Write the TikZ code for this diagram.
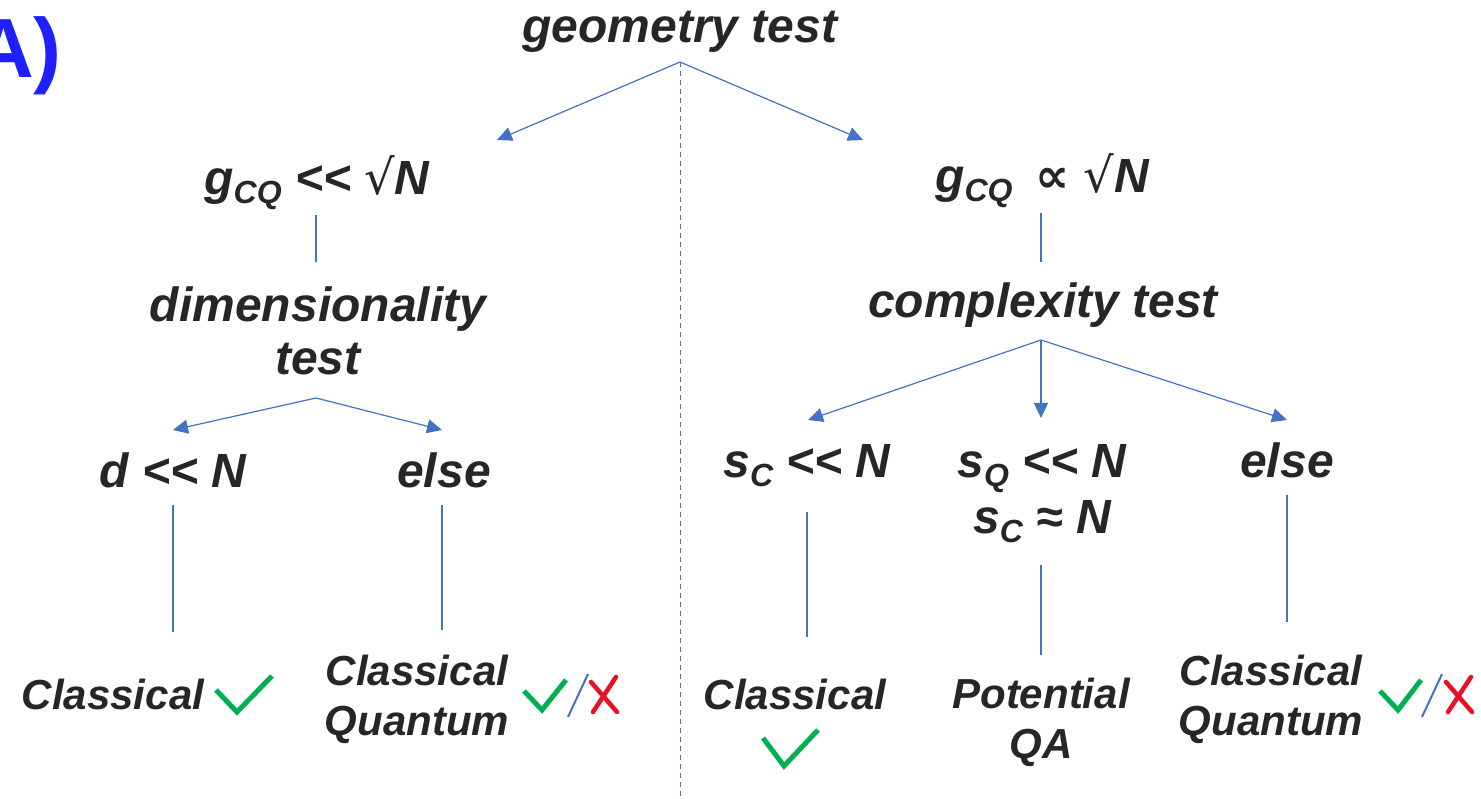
\documentclass[tikz,border=0pt]{standalone}
\usepackage{fontspec}
\setmainfont{Liberation Sans}
\newfontfamily\symf{DejaVu Sans}
\usetikzlibrary{arrows.meta}
\definecolor{txt}{HTML}{262626}
\definecolor{ln}{HTML}{4472C4}
\definecolor{okg}{HTML}{00B050}
\definecolor{nored}{HTML}{E81123}
\definecolor{lab}{HTML}{1F1FFF}
\newcommand{\sbs}[1]{\raisebox{-9pt}{\fontsize{32}{32}\selectfont #1}}
\newcommand{\sqr}{{\symf\mdseries\upshape √}}
\begin{document}
\begin{tikzpicture}[x=1pt,y=-1pt,
  head/.style={font=\bfseries\itshape\fontsize{48}{56}\selectfont, text=txt, inner sep=0pt, anchor=base},
  leaf/.style={font=\bfseries\itshape\fontsize{42}{50}\selectfont, text=txt, inner sep=0pt, anchor=base},
  conn/.style={ln, line width=1.2pt},
  arr/.style={conn, -{Triangle[length=15pt,width=14pt]}},
  tick/.style={okg, line width=5pt, line join=miter, line cap=butt},
  slash/.style={ln, line width=2pt},
  cross/.style={nored, line width=4.5pt, line cap=round}]
\useasboundingbox (0,0) rectangle (1481,799);

% label
\node[font=\bfseries\fontsize{84}{90}\selectfont, text=lab, inner sep=0pt, anchor=base east] (lbl) at (62,78) {A)};

% top
\node[head] (geo) at (680,43) {geometry test};
\coordinate (geoJ) at (680,62);
\coordinate (glT) at (497,140);
\coordinate (grT) at (863,140);
\coordinate (dashE) at (680,797);
\draw[conn, dash pattern=on 5pt off 4pt, line width=1pt] (geoJ) -- (dashE);
\draw[arr] (geoJ) -- (glT);
\draw[arr] (geoJ) -- (grT);

% left branch
\node[head] (gl) at (317,195) {g\sbs{CQ} {<}{<} \sqr N};
\coordinate (glB) at (316,215);
\coordinate (dimT) at (316,262);
\draw[conn] (glB) -- (dimT);
\node[head] (dim1) at (318,322) {dimensionality};
\node[head] (dim2) at (318,375) {test};
\coordinate (dimJ) at (316,398);
\coordinate (dlT) at (173,430);
\coordinate (elT) at (442,430);
\draw[arr] (dimJ) -- (dlT);
\draw[arr] (dimJ) -- (elT);
\node[head] (dl) at (173,487) {d {<}{<} N};
\node[head] (el) at (444,487) {else};
\coordinate (dlB) at (173,505);
\coordinate (dlE) at (173,632);
\coordinate (elB) at (442,505);
\coordinate (elE) at (442,630);
\draw[conn] (dlB) -- (dlE);
\draw[conn] (elB) -- (elE);
\node[leaf] (lc) at (113,709) {Classical};
\node[leaf] (lq1) at (417,685) {Classical};
\node[leaf] (lq2) at (417,735) {Quantum};
\draw[tick] (216,690) -- (237,712) -- (272,676);
\draw[tick] (524,691) -- (542,710) -- (566,680);
\draw[slash] (588,674) -- (568,717);
\draw[cross] (591,682) -- (617,712);
\draw[cross] (616,677) -- (593,712);

% right branch
\node[head] (gr) at (1042,193) {g\sbs{CQ}\hspace{10pt} {\symf\bfseries\upshape ∝} \sqr N};
\coordinate (grB) at (1041,213);
\coordinate (cxT) at (1041,262);
\draw[conn] (grB) -- (cxT);
\node[head] (cx) at (1043,318) {complexity test};
\coordinate (cxJ) at (1041,340);
\coordinate (scT) at (808,420);
\coordinate (sqT) at (1041,418);
\coordinate (erT) at (1287,420);
\draw[arr] (cxJ) -- (scT);
\draw[arr] (cxJ) -- (sqT);
\draw[arr] (cxJ) -- (erT);
\node[head] (sc) at (807,478) {s\sbs{C} {<}{<} N};
\node[head] (sq1) at (1042,478) {s\sbs{Q} {<}{<} N};
\node[head] (sq2) at (1042,533) {s\sbs{C} ≈ N};
\node[head] (er) at (1287,478) {else};
\coordinate (scB) at (807,512);
\coordinate (scE) at (807,637);
\coordinate (sqB) at (1041,565);
\coordinate (sqE) at (1041,655);
\coordinate (erB) at (1287,495);
\coordinate (erE) at (1287,622);
\draw[conn] (scB) -- (scE);
\draw[conn] (sqB) -- (sqE);
\draw[conn] (erB) -- (erE);
\node[leaf] (rc) at (795,709) {Classical};
\node[leaf] (pq1) at (1041,708) {Potential};
\node[leaf] (pq2) at (1041,758) {QA};
\node[leaf] (rq1) at (1271,685) {Classical};
\node[leaf] (rq2) at (1271,735) {Quantum};
\draw[tick] (763,738) -- (784,766) -- (818,730);
\draw[tick] (1380,691) -- (1398,710) -- (1421,680);
\draw[slash] (1442,674) -- (1422,717);
\draw[cross] (1446,682) -- (1472,712);
\draw[cross] (1471,677) -- (1448,712);
\end{tikzpicture}
\end{document}
